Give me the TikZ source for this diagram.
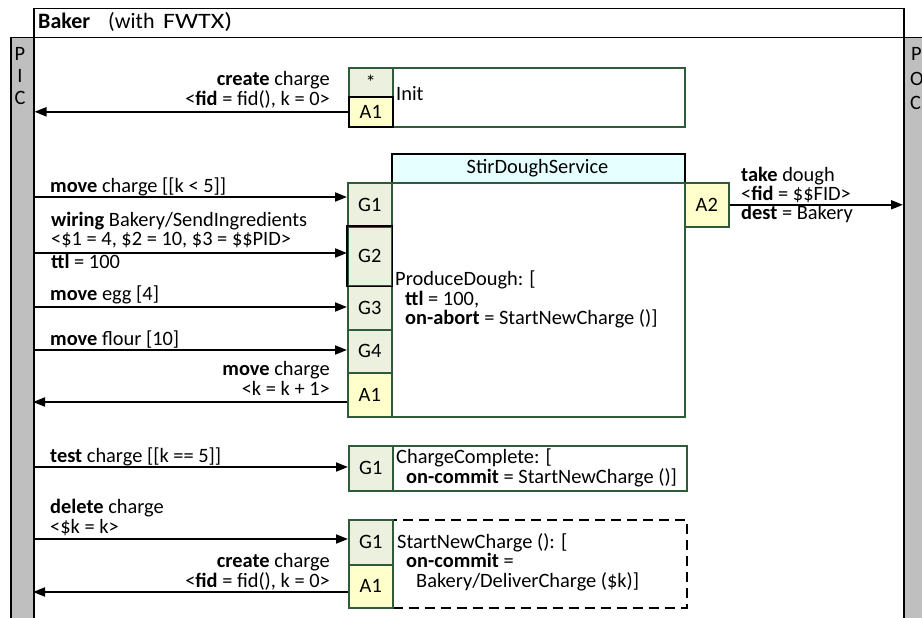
\documentclass[tikz,border=0pt]{standalone}
\usepackage{fontspec}
\usepackage{graphicx}
\setmainfont{Carlito}
\usetikzlibrary{arrows.meta}
\definecolor{gline}{HTML}{2F5B3A}
\definecolor{gatefill}{HTML}{EBF1DE}
\definecolor{actfill}{HTML}{FFFFCC}
\definecolor{headfill}{HTML}{E6FFFF}
\definecolor{barfill}{HTML}{BFBFBF}
\begin{document}
\begin{tikzpicture}[x=1pt,y=-1pt,
  txt/.style={inner sep=0pt, font=\fontsize{20.4pt}{22pt}\selectfont},
  lbl/.style={txt, anchor=base west},
  rlbl/.style={txt, anchor=base east},
  cellbase/.style={txt, line width=1.6pt, inner sep=0pt, anchor=north west, minimum width=44pt},
  gate/.style={cellbase, draw=gline, fill=gatefill},
  act/.style={cellbase, draw=gline, fill=actfill},
  box/.style={draw=gline, line width=1.6pt, inner sep=0pt, anchor=north west, fill=white},
  bar/.style={draw=black, fill=barfill, line width=1.5pt, inner sep=0pt, anchor=north west},
  arr/.style={draw=black, line width=1.8pt, -{Triangle[length=12pt,width=9pt]}}
]
\useasboundingbox (0,0) rectangle (922,618);
\fill[white] (0,0) rectangle (922,618);

% title and side bars
\node[draw=black, line width=1.5pt, inner sep=0pt, anchor=north west, minimum width=870pt, minimum height=29pt] (title) at (33,8) {};
\node[lbl, font=\fontsize{22pt}{24pt}\selectfont] (titletxt) at (38,28.5) {\makebox[70pt][l]{\textbf{Baker}}\makebox[55pt][l]{(with}\scalebox{1.18}[1]{FWTX)}};
\node[bar, minimum width=23pt, minimum height=600pt] (pic) at (10,37) {};
\node[bar, minimum width=30pt, minimum height=600pt] (poc) at (903,37) {};
\node[txt] (picP) at (20,54) {P};
\node[txt] (picI) at (20,76) {I};
\node[txt] (picC) at (20,98) {C};
\node[txt, anchor=west] (pocP) at (911,54) {P};
\node[txt, anchor=west] (pocO) at (910,79) {O};
\node[txt, anchor=west] (pocC) at (910,103) {C};

% Init
\node[box, minimum width=292pt, minimum height=59pt] (initbox) at (392,67) {};
\node[gate, minimum height=29pt] (istar) at (348,67) {*};
\node[cellbase, draw=black, fill=actfill, minimum height=30pt] (ia1) at (348,96) {A1};
\node[lbl] (inittxt) at (396,101) {Init};
\node[rlbl] (c1a) at (330,86) {\textbf{create} charge};
\node[rlbl] (c1b) at (330,106) {<\textbf{fid} = fid(), k = 0>};
\draw[arr] (ia1.west) -- (ia1.west -| pic.east);

% StirDoughService
\node[draw=black, fill=headfill, line width=1.5pt, inner sep=0pt, anchor=north west, minimum width=293pt, minimum height=29pt] (shead) at (391,153) {};
\node[txt] (sheadtxt) at (537.5,168) {StirDoughService};
\node[box, minimum width=293pt, minimum height=234pt] (sbox) at (391,182) {};
\node[gate, minimum height=44pt] (sg1) at (347,182) {G1};
\node[gate, minimum height=59pt] (sg2) at (347,226) {G2};
\node[gate, minimum height=44pt] (sg3) at (347,285) {G3};
\node[gate, minimum height=43pt] (sg4) at (347,329) {G4};
\node[act, minimum height=44pt] (sa1) at (347,372) {A1};
\draw[black, line width=1.6pt] (sg2.north west) rectangle (sg2.south east);
\node[act, minimum height=44pt] (sa2) at (684,182) {A2};
\node[lbl] (pd1) at (395,285.5) {ProduceDough: [};
\node[lbl] (pd2) at (405,305) {\textbf{ttl} = 100,};
\node[lbl] (pd3) at (405,324.5) {\textbf{on-abort} = StartNewCharge ()]};

\coordinate (in1) at (33,197);
\coordinate (in2) at (33,253);
\coordinate (in3) at (33,307);
\coordinate (in4) at (33,350);
\coordinate (out1) at (33,402);
\node[lbl] (m1) at (50,192) {\textbf{move} charge [[k < 5]]};
\node[lbl] (w1) at (51,226) {\textbf{wiring} Bakery/SendIngredients};
\node[lbl] (w2) at (51,245) {<\$1 = 4, \$2 = 10, \$3 = \$\$PID>};
\node[lbl] (w3) at (51,268) {\textbf{ttl} = 100};
\node[lbl] (m3) at (50,300) {\textbf{move} egg [4]};
\node[lbl] (m4) at (50,345) {\textbf{move} flour [10]};
\node[rlbl] (ma1) at (330,375) {\textbf{move} charge};
\node[rlbl] (ma2) at (330,395) {<k = k + 1>};
\draw[arr] (in1) -- (in1 -| sg1.west);
\draw[arr] (in2) -- (in2 -| sg2.west);
\draw[arr] (in3) -- (in3 -| sg3.west);
\draw[arr] (in4) -- (in4 -| sg4.west);
\draw[arr] (out1 -| sa1.west) -- (out1);

\node[lbl] (t1) at (741,181) {\textbf{take} dough};
\node[lbl] (t2) at (741,200) {<\textbf{fid} = \$\$FID>};
\node[lbl] (t3) at (741,219) {\textbf{dest} = Bakery};
\draw[arr] (sa2.east) -- (sa2.east -| poc.west);

% ChargeComplete
\node[box, minimum width=294pt, minimum height=45pt] (ccbox) at (392,445) {};
\node[gate, minimum height=45pt] (cg1) at (348,445) {G1};
\node[lbl] (cc1) at (396,463) {ChargeComplete: [};
\node[lbl] (cc2) at (406,483) {\textbf{on-commit} = StartNewCharge ()]};
\node[lbl] (tc) at (50,462) {\textbf{test} charge [[k == 5]]};
\coordinate (in5) at (33,467);
\draw[arr] (in5) -- (in5 -| cg1.west);

% StartNewCharge
\node[draw=black, line width=1.8pt, dash pattern=on 10pt off 6pt, inner sep=0pt, anchor=north west, minimum width=294pt, minimum height=88pt] (snbox) at (392,519) {};
\node[gate, minimum height=45pt] (ng1) at (348,519) {G1};
\node[act, minimum height=43pt] (na1) at (348,564) {A1};
\node[lbl] (sn1) at (397,548) {StartNewCharge (): [};
\node[lbl] (sn2) at (406,567) {\textbf{on-commit} =};
\node[lbl] (sn3) at (416,587) {Bakery/DeliverCharge (\$k)]};
\node[lbl] (d1) at (50,513) {\textbf{delete} charge};
\node[lbl] (d2) at (50,533) {<\$k = k>};
\node[rlbl] (c2a) at (330,567) {\textbf{create} charge};
\node[rlbl] (c2b) at (330,587) {<\textbf{fid} = fid(), k = 0>};
\coordinate (in6) at (33,539);
\coordinate (out2) at (33,592);
\draw[arr] (in6) -- (in6 -| ng1.west);
\draw[arr] (out2 -| na1.west) -- (out2);
\end{tikzpicture}
\end{document}
